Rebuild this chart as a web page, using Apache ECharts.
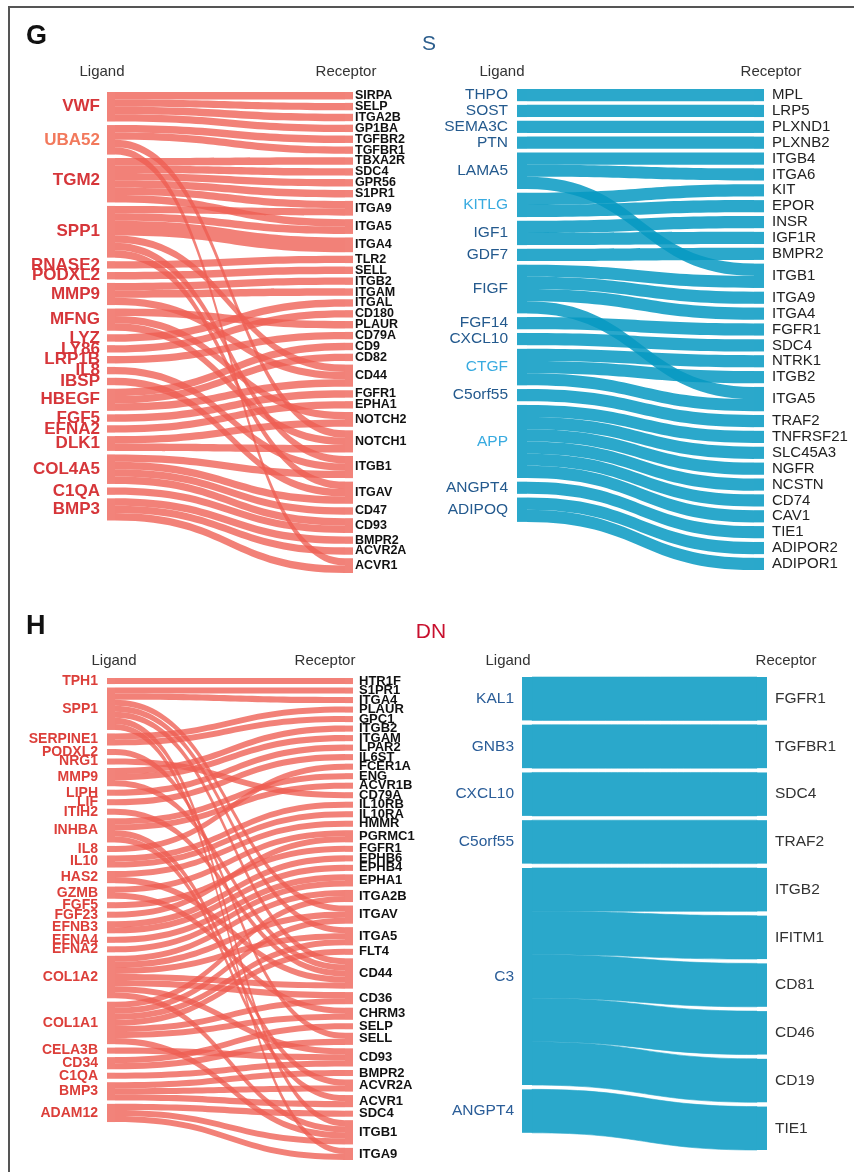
<!DOCTYPE html>
<html>
<head>
<meta charset="utf-8">
<script src="https://cdn.jsdelivr.net/npm/echarts@6/dist/echarts.min.js"></script>
<style>
  html, body { margin: 0; padding: 0; background: #fff; }
  #chart { width: 854px; height: 1172px; }
</style>
</head>
<body>
<div id="chart"></div>
<script>
// ---- G / S : red network ----
const sRedLigands = ['VWF', 'UBA52', 'TGM2', 'SPP1', 'RNASE2', 'PODXL2', 'MMP9', 'MFNG', 'LYZ', 'LY86',
  'LRP1B', 'IL8', 'IBSP', 'HBEGF', 'FGF5', 'EFNA2', 'DLK1', 'COL4A5', 'C1QA', 'BMP3'];
const sRedReceptors = ['SIRPA', 'SELP', 'ITGA2B', 'GP1BA', 'TGFBR2', 'TGFBR1', 'TBXA2R', 'SDC4', 'GPR56', 'S1PR1',
  'ITGA9', 'ITGA5', 'ITGA4', 'TLR2', 'SELL', 'ITGB2', 'ITGAM', 'ITGAL', 'CD180', 'PLAUR', 'CD79A', 'CD9', 'CD82',
  'CD44', 'FGFR1', 'EPHA1', 'NOTCH2', 'NOTCH1', 'ITGB1', 'ITGAV', 'CD47', 'CD93', 'BMPR2', 'ACVR2A', 'ACVR1'];
const sRedLinks = [
  ['VWF', 'SIRPA', 1], ['VWF', 'SELP', 1], ['VWF', 'ITGA2B', 1], ['VWF', 'GP1BA', 1],
  ['UBA52', 'TGFBR2', 1], ['UBA52', 'TGFBR1', 1], ['UBA52', 'NOTCH1', 1], ['UBA52', 'ACVR1', 1],
  ['TGM2', 'TBXA2R', 1], ['TGM2', 'SDC4', 1], ['TGM2', 'GPR56', 1], ['TGM2', 'S1PR1', 1], ['TGM2', 'ITGA9', 1], ['TGM2', 'ITGA5', 1],
  ['SPP1', 'ITGA9', 1], ['SPP1', 'ITGA5', 1], ['SPP1', 'ITGA4', 2], ['SPP1', 'CD44', 1], ['SPP1', 'ITGB1', 1], ['SPP1', 'ITGAV', 1],
  ['RNASE2', 'TLR2', 1], ['PODXL2', 'SELL', 1],
  ['MMP9', 'ITGB2', 1], ['MMP9', 'ITGAM', 1], ['MMP9', 'CD44', 1],
  ['MFNG', 'PLAUR', 1], ['MFNG', 'NOTCH2', 1], ['MFNG', 'NOTCH1', 1],
  ['LYZ', 'ITGAL', 1], ['LY86', 'CD180', 1], ['LRP1B', 'CD79A', 1], ['IL8', 'ITGB1', 1], ['IBSP', 'ITGAV', 1],
  ['HBEGF', 'CD9', 1], ['HBEGF', 'CD82', 1], ['HBEGF', 'CD44', 1],
  ['FGF5', 'FGFR1', 1], ['EFNA2', 'EPHA1', 1],
  ['DLK1', 'NOTCH2', 1], ['DLK1', 'NOTCH1', 1],
  ['COL4A5', 'ITGB1', 1], ['COL4A5', 'ITGAV', 1], ['COL4A5', 'CD47', 1], ['COL4A5', 'CD93', 1],
  ['C1QA', 'CD93', 1],
  ['BMP3', 'BMPR2', 1], ['BMP3', 'ACVR2A', 1], ['BMP3', 'ACVR1', 1]
];

// ---- G / S : blue network ----
const sBlueLigands = ['THPO', 'SOST', 'SEMA3C', 'PTN', 'LAMA5', 'KITLG', 'IGF1', 'GDF7', 'FIGF', 'FGF14',
  'CXCL10', 'CTGF', 'C5orf55', 'APP', 'ANGPT4', 'ADIPOQ'];
const sBlueReceptors = ['MPL', 'LRP5', 'PLXND1', 'PLXNB2', 'ITGB4', 'ITGA6', 'KIT', 'EPOR', 'INSR', 'IGF1R', 'BMPR2',
  'ITGB1', 'ITGA9', 'ITGA4', 'FGFR1', 'SDC4', 'NTRK1', 'ITGB2', 'ITGA5', 'TRAF2', 'TNFRSF21', 'SLC45A3', 'NGFR',
  'NCSTN', 'CD74', 'CAV1', 'TIE1', 'ADIPOR2', 'ADIPOR1'];
const sBlueLinks = [
  ['THPO', 'MPL', 1], ['SOST', 'LRP5', 1], ['SEMA3C', 'PLXND1', 1], ['PTN', 'PLXNB2', 1],
  ['LAMA5', 'ITGB4', 1], ['LAMA5', 'ITGA6', 1], ['LAMA5', 'ITGB1', 1],
  ['KITLG', 'KIT', 1], ['KITLG', 'EPOR', 1],
  ['IGF1', 'INSR', 1], ['IGF1', 'IGF1R', 1],
  ['GDF7', 'BMPR2', 1],
  ['FIGF', 'ITGB1', 1], ['FIGF', 'ITGA9', 1], ['FIGF', 'ITGA4', 1], ['FIGF', 'ITGA5', 1],
  ['FGF14', 'FGFR1', 1], ['CXCL10', 'SDC4', 1],
  ['CTGF', 'NTRK1', 1], ['CTGF', 'ITGB2', 1], ['CTGF', 'ITGA5', 1],
  ['C5orf55', 'TRAF2', 1],
  ['APP', 'TNFRSF21', 1], ['APP', 'SLC45A3', 1], ['APP', 'NGFR', 1], ['APP', 'NCSTN', 1], ['APP', 'CD74', 1], ['APP', 'CAV1', 1],
  ['ANGPT4', 'TIE1', 1],
  ['ADIPOQ', 'ADIPOR2', 1], ['ADIPOQ', 'ADIPOR1', 1]
];

// ---- H / DN : red network ----
const dnRedLigands = ['TPH1', 'SPP1', 'SERPINE1', 'PODXL2', 'NRG1', 'MMP9', 'LIPH', 'LIF', 'ITIH2', 'INHBA',
  'IL8', 'IL10', 'HAS2', 'GZMB', 'FGF5', 'FGF23', 'EFNB3', 'EFNA4', 'EFNA2', 'COL1A2', 'COL1A1', 'CELA3B',
  'CD34', 'C1QA', 'BMP3', 'ADAM12'];
const dnRedReceptors = ['HTR1F', 'S1PR1', 'ITGA4', 'PLAUR', 'GPC1', 'ITGB2', 'ITGAM', 'LPAR2', 'IL6ST', 'FCER1A',
  'ENG', 'ACVR1B', 'CD79A', 'IL10RB', 'IL10RA', 'HMMR', 'PGRMC1', 'FGFR1', 'EPHB6', 'EPHB4', 'EPHA1', 'ITGA2B',
  'ITGAV', 'ITGA5', 'FLT4', 'CD44', 'CD36', 'CHRM3', 'SELP', 'SELL', 'CD93', 'BMPR2', 'ACVR2A', 'ACVR1', 'SDC4',
  'ITGB1', 'ITGA9'];
const dnRedLinks = [
  ['TPH1', 'HTR1F', 1],
  ['SPP1', 'S1PR1', 1], ['SPP1', 'ITGA4', 1], ['SPP1', 'ITGAV', 1], ['SPP1', 'ITGA5', 1], ['SPP1', 'CD44', 1],
  ['SPP1', 'ITGB1', 1], ['SPP1', 'ITGA9', 1],
  ['SERPINE1', 'PLAUR', 1], ['SERPINE1', 'GPC1', 1],
  ['PODXL2', 'SELL', 1], ['NRG1', 'CD79A', 1],
  ['MMP9', 'ITGB2', 1], ['MMP9', 'ITGAM', 1], ['MMP9', 'CD44', 1],
  ['LIPH', 'LPAR2', 1], ['LIF', 'IL6ST', 1], ['ITIH2', 'CD44', 1],
  ['INHBA', 'ENG', 1], ['INHBA', 'ACVR1B', 1], ['INHBA', 'ACVR2A', 1], ['INHBA', 'ACVR1', 1],
  ['IL8', 'FCER1A', 1],
  ['IL10', 'IL10RB', 1], ['IL10', 'IL10RA', 1],
  ['HAS2', 'HMMR', 1], ['HAS2', 'CD44', 1],
  ['GZMB', 'PGRMC1', 1], ['GZMB', 'CHRM3', 1],
  ['FGF5', 'FGFR1', 1], ['FGF23', 'PGRMC1', 1],
  ['EFNB3', 'EPHB6', 1], ['EFNB3', 'EPHB4', 1],
  ['EFNA4', 'EPHA1', 1], ['EFNA2', 'EPHA1', 1],
  ['COL1A2', 'ITGA2B', 1], ['COL1A2', 'ITGAV', 1], ['COL1A2', 'ITGA5', 1], ['COL1A2', 'CD44', 1],
  ['COL1A2', 'CD36', 1], ['COL1A2', 'CD93', 1], ['COL1A2', 'ITGB1', 1],
  ['COL1A1', 'ITGA2B', 1], ['COL1A1', 'ITGAV', 1], ['COL1A1', 'ITGA5', 1], ['COL1A1', 'FLT4', 1],
  ['COL1A1', 'CD36', 1], ['COL1A1', 'CHRM3', 1], ['COL1A1', 'ITGB1', 1],
  ['CELA3B', 'CD93', 1],
  ['CD34', 'SELP', 1], ['CD34', 'SELL', 1],
  ['C1QA', 'CD93', 1],
  ['BMP3', 'BMPR2', 1], ['BMP3', 'ACVR2A', 1], ['BMP3', 'ACVR1', 1],
  ['ADAM12', 'SDC4', 1], ['ADAM12', 'ITGB1', 1], ['ADAM12', 'ITGA9', 1]
];

// ---- H / DN : blue network ----
const dnBlueLigands = ['KAL1', 'GNB3', 'CXCL10', 'C5orf55', 'C3', 'ANGPT4'];
const dnBlueReceptors = ['FGFR1', 'TGFBR1', 'SDC4', 'TRAF2', 'ITGB2', 'IFITM1', 'CD81', 'CD46', 'CD19', 'TIE1'];
const dnBlueLinks = [
  ['KAL1', 'FGFR1', 1], ['GNB3', 'TGFBR1', 1], ['CXCL10', 'SDC4', 1], ['C5orf55', 'TRAF2', 1],
  ['C3', 'ITGB2', 1], ['C3', 'IFITM1', 1], ['C3', 'CD81', 1], ['C3', 'CD46', 1], ['C3', 'CD19', 1],
  ['ANGPT4', 'TIE1', 1]
];

// ligand names printed in a lighter tint
const sRedLight = ['UBA52'];
const sBlueLight = ['KITLG', 'CTGF', 'APP'];

const FONT = '"Liberation Sans", Arial, Helvetica, sans-serif';
const RED_NODE = '#f2837a', RED_LINK = '#ee5d52';
const BLUE_NODE = '#2aa8cb', BLUE_LINK = '#0699c2';

function sankeySeries(o) {
  const nodes = o.ligands.map(function (n) {
    return { name: n, label: { color: o.ligandColor(n) } };
  }).concat(o.receptors.map(function (n) { return { name: n }; }));
  const line = { color: o.linkColor, opacity: o.linkOpacity, curveness: 0.5 };
  if (o.linkBorder) {
    line.borderColor = o.linkColor;
    line.borderWidth = o.linkBorder;
  }
  return {
    type: 'sankey',
    left: o.box[0], top: o.box[1], width: o.box[2], height: o.box[3],
    nodeWidth: o.nodeWidth,
    nodeGap: o.nodeGap,
    layoutIterations: 0,
    draggable: false,
    nodeAlign: 'justify',
    data: nodes,
    links: o.links.map(function (l) { return { source: l[0], target: l[1], value: l[2] }; }),
    itemStyle: { color: o.nodeColor, borderWidth: 0 },
    lineStyle: line,
    label: { fontFamily: FONT },
    levels: [
      { depth: 0, label: Object.assign({ position: 'left', distance: o.leftDist, fontFamily: FONT }, o.leftFont) },
      { depth: 1, label: Object.assign({ position: 'right', distance: o.rightDist, fontFamily: FONT }, o.rightFont) }
    ],
    emphasis: { disabled: true }
  };
}

function txt(text, x, y, size, color, weight, align) {
  return {
    type: 'text', x: x, y: y, silent: true,
    style: {
      text: text, fill: color, textAlign: align || 'center', textVerticalAlign: 'middle',
      font: (weight || 'normal') + ' ' + size + 'px ' + FONT
    }
  };
}

const chart = echarts.init(document.getElementById('chart'), null, { renderer: 'canvas' });

chart.setOption({
  backgroundColor: '#fff',
  animation: false,
  graphic: [
    { type: 'line', silent: true, shape: { x1: 8, y1: 7, x2: 854, y2: 7 }, style: { stroke: '#555', lineWidth: 2 } },
    { type: 'line', silent: true, shape: { x1: 9, y1: 7, x2: 9, y2: 1172 }, style: { stroke: '#555', lineWidth: 2 } },
    txt('G', 26, 37, 27, '#111', 'bold', 'left'),
    txt('S', 429, 44, 21, '#2b5d8c'),
    txt('H', 26, 627, 27, '#111', 'bold', 'left'),
    txt('DN', 431, 632, 21, '#c8102e'),
    txt('Ligand', 102, 72, 15, '#333'),
    txt('Receptor', 346, 72, 15, '#333'),
    txt('Ligand', 502, 72, 15, '#333'),
    txt('Receptor', 771, 72, 15, '#333'),
    txt('Ligand', 114, 661, 15, '#333'),
    txt('Receptor', 325, 661, 15, '#333'),
    txt('Ligand', 508, 661, 15, '#333'),
    txt('Receptor', 786, 661, 15, '#333')
  ],
  series: [
    sankeySeries({
      ligands: sRedLigands, receptors: sRedReceptors, links: sRedLinks,
      box: [107, 92, 246, 481], nodeWidth: 8, nodeGap: 3.5,
      nodeColor: RED_NODE, linkColor: RED_LINK, linkOpacity: 0.78,
      ligandColor: function (n) { return sRedLight.indexOf(n) >= 0 ? '#f2795c' : '#d6363a'; },
      leftDist: 7, rightDist: 2,
      leftFont: { fontSize: 17, fontWeight: 'bold' },
      rightFont: { fontSize: 12.5, fontWeight: 'bold', color: '#111' }
    }),
    sankeySeries({
      ligands: sBlueLigands, receptors: sBlueReceptors, links: sBlueLinks,
      box: [517, 89, 247, 481], nodeWidth: 10, nodeGap: 3.7,
      nodeColor: BLUE_NODE, linkColor: BLUE_LINK, linkOpacity: 0.85,
      ligandColor: function (n) { return sBlueLight.indexOf(n) >= 0 ? '#39abe0' : '#245a8e'; },
      leftDist: 9, rightDist: 8,
      leftFont: { fontSize: 15.5 },
      rightFont: { fontSize: 15, color: '#222' }
    }),
    sankeySeries({
      ligands: dnRedLigands, receptors: dnRedReceptors, links: dnRedLinks,
      box: [107, 678, 246, 482], nodeWidth: 8, nodeGap: 3.45,
      nodeColor: RED_NODE, linkColor: RED_LINK, linkOpacity: 0.78,
      ligandColor: function () { return '#dc3f3a'; },
      leftDist: 9, rightDist: 6,
      leftFont: { fontSize: 14, fontWeight: 'bold' },
      rightFont: { fontSize: 13, fontWeight: 'bold', color: '#111' }
    }),
    // no crossings here, so the ribbons are drawn opaque
    sankeySeries({
      ligands: dnBlueLigands, receptors: dnBlueReceptors, links: dnBlueLinks,
      box: [522, 677, 245, 473], nodeWidth: 10, nodeGap: 4.3,
      nodeColor: BLUE_NODE, linkColor: BLUE_NODE, linkOpacity: 1, linkBorder: 0.6,
      ligandColor: function () { return '#2a5d98'; },
      leftDist: 8, rightDist: 8,
      leftFont: { fontSize: 15.5 },
      rightFont: { fontSize: 15.5, color: '#333' }
    })
  ]
});
</script>
</body>
</html>
